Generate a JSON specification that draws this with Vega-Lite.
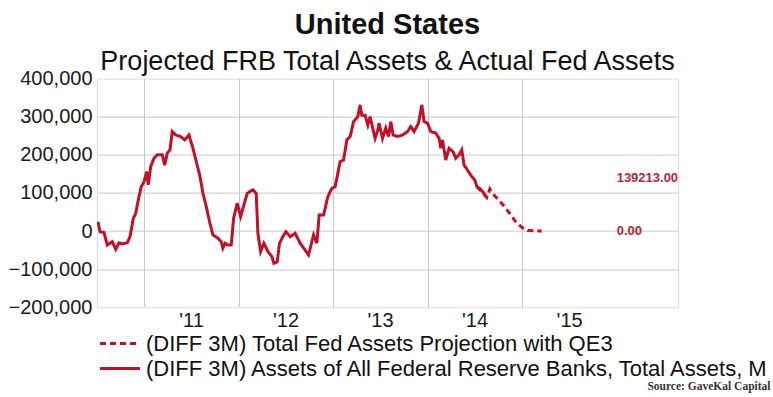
{
  "$schema": "https://vega.github.io/schema/vega-lite/v6.json",
  "width": 581,
  "height": 228.6,
  "autosize": "none",
  "padding": {"left": 97, "top": 78.6, "right": 95, "bottom": 89.8},
  "background": "white",
  "config": {
    "axis": {"labelOverlap": false},
    "axisY": {"labelOverlap": false}
  },
  "title": {
    "text": "United States",
    "subtitle": "Projected FRB Total Assets & Actual Fed Assets",
    "font": "Liberation Sans",
    "fontSize": 29,
    "fontWeight": "bold",
    "color": "#111111",
    "subtitleFont": "Liberation Sans",
    "subtitleFontSize": 27,
    "subtitleColor": "#111111",
    "anchor": "middle",
    "offset": -6,
    "subtitlePadding": 9
  },
  "datasets": {
    "actual": [
      {"year": 2010.514, "value": 24000}, {"year": 2010.535, "value": -2000}, {"year": 2010.577, "value": -4000},
      {"year": 2010.612, "value": -37000}, {"year": 2010.665, "value": -28000}, {"year": 2010.701, "value": -48000},
      {"year": 2010.736, "value": -31000}, {"year": 2010.771, "value": -34000}, {"year": 2010.823, "value": -31000},
      {"year": 2010.852, "value": -15000}, {"year": 2010.887, "value": 33000}, {"year": 2010.912, "value": 46000},
      {"year": 2010.947, "value": 90000}, {"year": 2010.971, "value": 116000}, {"year": 2011.0, "value": 129000},
      {"year": 2011.029, "value": 156000}, {"year": 2011.045, "value": 121000}, {"year": 2011.071, "value": 169000},
      {"year": 2011.106, "value": 191000}, {"year": 2011.141, "value": 200000}, {"year": 2011.193, "value": 200000},
      {"year": 2011.219, "value": 173000}, {"year": 2011.246, "value": 204000}, {"year": 2011.275, "value": 213000},
      {"year": 2011.299, "value": 261000}, {"year": 2011.335, "value": 252000}, {"year": 2011.388, "value": 248000},
      {"year": 2011.43, "value": 239000}, {"year": 2011.476, "value": 252000}, {"year": 2011.518, "value": 217000},
      {"year": 2011.553, "value": 182000}, {"year": 2011.589, "value": 147000}, {"year": 2011.624, "value": 99000},
      {"year": 2011.659, "value": 64000}, {"year": 2011.694, "value": 24000}, {"year": 2011.729, "value": -10000},
      {"year": 2011.782, "value": -19000}, {"year": 2011.817, "value": -28000}, {"year": 2011.835, "value": -45000},
      {"year": 2011.859, "value": -32000}, {"year": 2011.888, "value": -37000}, {"year": 2011.923, "value": -37000},
      {"year": 2011.948, "value": 33000}, {"year": 2011.986, "value": 73000}, {"year": 2012.022, "value": 38000},
      {"year": 2012.057, "value": 68000}, {"year": 2012.092, "value": 99000}, {"year": 2012.152, "value": 108000},
      {"year": 2012.187, "value": 99000}, {"year": 2012.205, "value": -6000}, {"year": 2012.234, "value": -54000},
      {"year": 2012.268, "value": -32000}, {"year": 2012.311, "value": -54000}, {"year": 2012.353, "value": -67000},
      {"year": 2012.374, "value": -85000}, {"year": 2012.409, "value": -81000}, {"year": 2012.434, "value": -32000},
      {"year": 2012.469, "value": -15000}, {"year": 2012.501, "value": -2000}, {"year": 2012.547, "value": -15000},
      {"year": 2012.599, "value": -6000}, {"year": 2012.652, "value": -32000}, {"year": 2012.741, "value": -63000},
      {"year": 2012.794, "value": -10000}, {"year": 2012.829, "value": -32000}, {"year": 2012.853, "value": 42000},
      {"year": 2012.9, "value": 42000}, {"year": 2012.945, "value": 90000}, {"year": 2012.987, "value": 112000},
      {"year": 2013.022, "value": 116000}, {"year": 2013.075, "value": 182000}, {"year": 2013.111, "value": 186000},
      {"year": 2013.146, "value": 239000}, {"year": 2013.181, "value": 248000}, {"year": 2013.217, "value": 287000},
      {"year": 2013.262, "value": 300000}, {"year": 2013.286, "value": 331000}, {"year": 2013.304, "value": 304000},
      {"year": 2013.339, "value": 304000}, {"year": 2013.368, "value": 278000}, {"year": 2013.392, "value": 300000},
      {"year": 2013.445, "value": 243000}, {"year": 2013.474, "value": 265000}, {"year": 2013.487, "value": 283000},
      {"year": 2013.523, "value": 243000}, {"year": 2013.558, "value": 270000}, {"year": 2013.587, "value": 248000},
      {"year": 2013.611, "value": 287000}, {"year": 2013.635, "value": 252000}, {"year": 2013.682, "value": 248000},
      {"year": 2013.735, "value": 252000}, {"year": 2013.788, "value": 261000}, {"year": 2013.822, "value": 274000},
      {"year": 2013.857, "value": 261000}, {"year": 2013.904, "value": 283000}, {"year": 2013.939, "value": 331000},
      {"year": 2013.963, "value": 287000}, {"year": 2013.999, "value": 283000}, {"year": 2014.034, "value": 261000},
      {"year": 2014.087, "value": 257000}, {"year": 2014.122, "value": 243000}, {"year": 2014.14, "value": 217000},
      {"year": 2014.158, "value": 239000}, {"year": 2014.192, "value": 186000}, {"year": 2014.227, "value": 217000},
      {"year": 2014.27, "value": 208000}, {"year": 2014.298, "value": 191000}, {"year": 2014.333, "value": 200000},
      {"year": 2014.362, "value": 213000}, {"year": 2014.386, "value": 173000}, {"year": 2014.422, "value": 160000},
      {"year": 2014.467, "value": 143000}, {"year": 2014.499, "value": 134000}, {"year": 2014.523, "value": 116000},
      {"year": 2014.552, "value": 112000}, {"year": 2014.584, "value": 103000}, {"year": 2014.626, "value": 88000}
    ],
    "projection": [
      {"year": 2014.52, "value": 116000}, {"year": 2014.584, "value": 100000}, {"year": 2014.626, "value": 88000},
      {"year": 2014.658, "value": 110000}, {"year": 2014.7, "value": 95000}, {"year": 2014.763, "value": 79000},
      {"year": 2014.848, "value": 53000}, {"year": 2014.932, "value": 24000}, {"year": 2015.006, "value": 8000},
      {"year": 2015.059, "value": 1000}, {"year": 2015.207, "value": 0}
    ],
    "lastvalues": [
      {"value": 139213, "label": "139213.00"},
      {"value": 0, "label": "0.00"}
    ]
  },
  "layer": [
    {
      "data": {"name": "actual"},
      "mark": {"type": "line", "strokeWidth": 3, "color": "#bf1128", "clip": true},
      "encoding": {
        "x": {
          "field": "year",
          "type": "quantitative",
          "scale": {"domain": [2010.503, 2016.649], "nice": false, "zero": false},
          "axis": {
            "values": [2011, 2012, 2013, 2014, 2015],
            "format": "d",
            "labelExpr": "\"'\" + substring(datum.label, 2)",
            "labelOffset": 47,
            "labelFont": "Liberation Sans",
            "labelFontSize": 20,
            "labelColor": "#1a1a1a",
            "labelPadding": 3,
            "labelFlush": false,
            "labelOverlap": false,
            "ticks": false,
            "domain": false,
            "grid": true,
            "gridColor": "#c8c8c8",
            "gridWidth": 1,
            "title": "Source: GaveKal Capital",
            "titleFont": "Liberation Serif",
            "titleFontSize": 11.5,
            "titleFontWeight": "bold",
            "titleColor": "#333333",
            "titleAlign": "right",
            "titleBaseline": "middle",
            "titleX": 673,
            "titleY": 79
          }
        },
        "y": {
          "field": "value",
          "type": "quantitative",
          "scale": {"domain": [-200000, 400000], "nice": false},
          "axis": {
            "values": [-200000, -100000, 0, 100000, 200000, 300000, 400000],
            "tickCount": 7,
            "format": ",.0f",
            "labelFont": "Liberation Sans",
            "labelFontSize": 20,
            "labelColor": "#1a1a1a",
            "labelPadding": 5,
            "labelOverlap": false,
            "labelFlush": false,
            "ticks": false,
            "domain": false,
            "grid": true,
            "gridColor": "#c8c8c8",
            "gridWidth": 1,
            "gridOpacity": {"condition": {"test": "datum.value === 400000 || datum.value === -200000", "value": 0}, "value": 1},
            "title": null
          }
        },
        "strokeDash": {
          "datum": "(DIFF 3M) Assets of All Federal Reserve Banks, Total Assets, M",
          "scale": {
            "domain": ["(DIFF 3M) Total Fed Assets Projection with QE3", "(DIFF 3M) Assets of All Federal Reserve Banks, Total Assets, M"],
            "range": [[6, 4], [1, 0]]
          },
          "legend": {
            "title": null,
            "orient": "none",
            "legendX": 12,
            "legendY": 254,
            "labelFont": "Liberation Sans",
            "labelFontSize": 22,
            "labelColor": "#111111",
            "labelLimit": 1000,
            "labelOffset": 15,
            "symbolType": "M-4,0H4",
            "symbolSize": 100,
            "symbolStrokeWidth": 3,
            "symbolStrokeColor": "#bf1128",
            "symbolFillColor": "transparent",
            "rowPadding": 3
          }
        }
      }
    },
    {
      "data": {"name": "projection"},
      "mark": {"type": "line", "strokeWidth": 3, "color": "#bf1128", "clip": true},
      "encoding": {
        "x": {"field": "year", "type": "quantitative"},
        "y": {"field": "value", "type": "quantitative"},
        "strokeDash": {"datum": "(DIFF 3M) Total Fed Assets Projection with QE3"}
      }
    },
    {
      "data": {"name": "lastvalues"},
      "mark": {"type": "text", "align": "left", "baseline": "middle", "font": "Liberation Sans", "fontSize": 13, "fontWeight": "bold", "color": "#b3263c"},
      "encoding": {
        "x": {"datum": 2016},
        "y": {"field": "value", "type": "quantitative"},
        "text": {"field": "label"}
      }
    }
  ]
}
